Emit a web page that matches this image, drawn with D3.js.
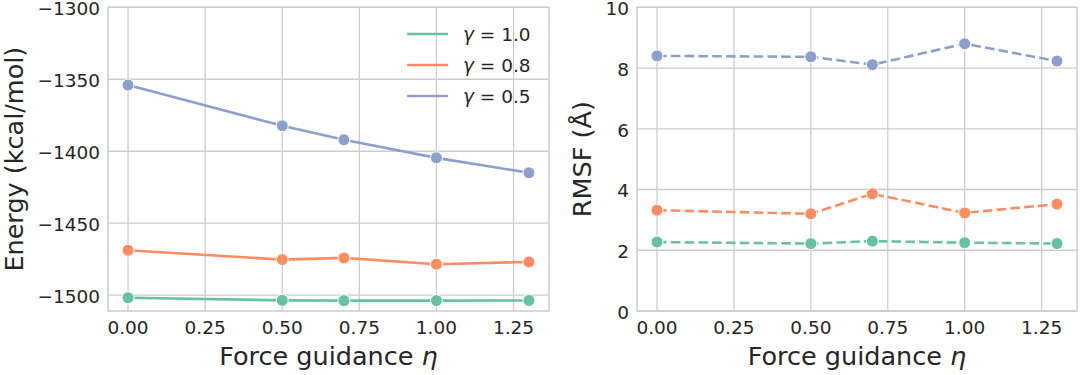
<!DOCTYPE html>
<html>
<head>
<meta charset="utf-8">
<script src="https://cdn.jsdelivr.net/npm/d3@7"></script>
<style>
    body { margin: 0; background: #fff; }
    svg { display: block; font-family: 'DejaVu Sans', sans-serif; }
</style>
</head>
<body>
<div id="chart"></div>
<script>
// guidance strengths on the x axis
const eta = [0.0, 0.5, 0.7, 1.0, 1.3];
const gammas = ['1.0', '0.8', '0.5'];

// energy (kcal/mol), one array per gamma
const energyG10 = [-1501.8, -1503.6, -1503.8, -1503.8, -1503.7];
const energyG08 = [-1468.8, -1475.3, -1474.1, -1478.5, -1476.9];
const energyG05 = [-1354.0, -1382.3, -1392.0, -1404.6, -1415.0];

// RMSF (angstrom)
const rmsfG10 = [2.27, 2.22, 2.30, 2.25, 2.22];
const rmsfG08 = [3.32, 3.20, 3.86, 3.23, 3.52];
const rmsfG05 = [8.40, 8.37, 8.11, 8.80, 8.23];

const xTicks = [0, 0.25, 0.5, 0.75, 1.0, 1.25];
const energyTicks = [-1500, -1450, -1400, -1350, -1300];
const rmsfTicks = [0, 2, 4, 6, 8, 10];

const colors = ['#66c2a5', '#fc8d62', '#8da0cb'];

const width = 1080, height = 375;
const textColor = '#262626';
const gridColor = '#cccccc';

const svg = d3.select('#chart').append('svg')
    .attr('width', width)
    .attr('height', height);

const panels = [
    {
        left: 108, right: 549,
        yDomain: [-1511, -1300], yTicks: energyTicks,
        series: [energyG10, energyG08, energyG05],
        dash: null, ylabel: 'Energy (kcal/mol)', ylabelX: 14,
        fmt: d => d3.format('d')(d).replace('-', '\u2212'),
        legend: true,
    },
    {
        left: 637, right: 1077,
        yDomain: [0, 10], yTicks: rmsfTicks,
        series: [rmsfG10, rmsfG08, rmsfG05],
        dash: '9.6,4.2', ylabel: 'RMSF (\u00c5)', ylabelX: 582,
        fmt: d3.format('d'),
        legend: false,
    },
];

const plotTop = 7.3, plotBottom = 311;

panels.forEach(p => {
    const x = d3.scaleLinear().domain([-0.065, 1.365]).range([p.left, p.right]);
    const y = d3.scaleLinear().domain(p.yDomain).range([plotBottom, plotTop]);

    const g = svg.append('g');

    /* grid */
    g.append('g').selectAll('line').data(xTicks).join('line')
        .attr('x1', d => x(d)).attr('x2', d => x(d))
        .attr('y1', plotTop).attr('y2', plotBottom)
        .attr('stroke', gridColor).attr('stroke-width', 1.3);
    g.append('g').selectAll('line').data(p.yTicks).join('line')
        .attr('y1', d => y(d)).attr('y2', d => y(d))
        .attr('x1', p.left).attr('x2', p.right)
        .attr('stroke', gridColor).attr('stroke-width', 1.3);

    /* frame */
    g.append('rect')
        .attr('x', p.left).attr('y', plotTop)
        .attr('width', p.right - p.left).attr('height', plotBottom - plotTop)
        .attr('fill', 'none').attr('stroke', gridColor).attr('stroke-width', 1.5);

    /* tick labels */
    g.append('g').selectAll('text').data(xTicks).join('text')
        .attr('x', d => x(d)).attr('y', 333.5)
        .attr('text-anchor', 'middle')
        .attr('font-size', 18.5).attr('fill', textColor)
        .text(d3.format('.2f'));
    g.append('g').selectAll('text').data(p.yTicks).join('text')
        .attr('x', p.left - 8).attr('y', d => y(d))
        .attr('dy', '0.43em')
        .attr('text-anchor', 'end')
        .attr('font-size', 18.5).attr('fill', textColor)
        .text(p.fmt);

    /* axis labels */
    const xl = g.append('text')
        .attr('x', (p.left + p.right) / 2).attr('y', 365)
        .attr('text-anchor', 'middle')
        .attr('font-size', 25.5).attr('fill', textColor);
    xl.append('tspan').text('Force guidance ');
    xl.append('tspan').attr('font-style', 'italic').text('\u03b7');

    g.append('text')
        .attr('transform', `translate(${p.ylabelX}, ${(plotTop + plotBottom) / 2}) rotate(-90)`)
        .attr('text-anchor', 'middle').attr('dy', '0.36em')
        .attr('font-size', 25.5).attr('fill', textColor)
        .text(p.ylabel);

    /* lines + markers */
    const line = d3.line().x((d, i) => x(eta[i])).y(d => y(d));
    p.series.forEach((vals, k) => {
        g.append('path')
            .datum(vals)
            .attr('d', line)
            .attr('fill', 'none')
            .attr('stroke', colors[k])
            .attr('stroke-width', 2.6)
            .attr('stroke-dasharray', p.dash);
        g.append('g').selectAll('circle').data(vals).join('circle')
            .attr('cx', (d, i) => x(eta[i]))
            .attr('cy', d => y(d))
            .attr('r', 6)
            .attr('fill', colors[k])
            .attr('stroke', '#fff').attr('stroke-width', 1);
    });

    if (p.legend) {
        const lg = g.append('g');
        gammas.forEach((gm, k) => {
            const ly = 34 + k * 31;
            lg.append('line')
                .attr('x1', 407).attr('x2', 448)
                .attr('y1', ly).attr('y2', ly)
                .attr('stroke', colors[k]).attr('stroke-width', 2.6);
            const t = lg.append('text')
                .attr('x', 463).attr('y', ly).attr('dy', '0.36em')
                .attr('font-size', 18.5).attr('fill', textColor);
            t.append('tspan').attr('font-style', 'italic').text('\u03b3');
            t.append('tspan').text(' = ' + gm);
        });
    }
});
</script>
</body>
</html>
